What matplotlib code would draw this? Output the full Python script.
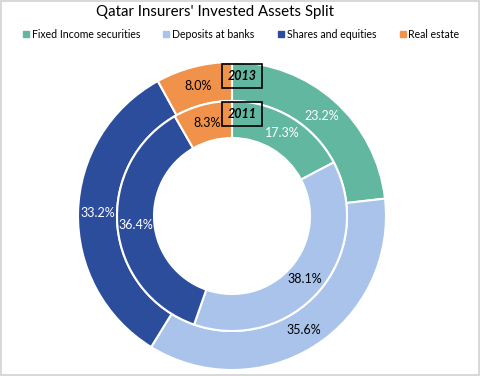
import matplotlib
matplotlib.use("Agg")
import matplotlib.pyplot as plt
from matplotlib.lines import Line2D
import numpy as np

plt.rcParams['font.family'] = ['Lato', 'DejaVu Sans']

# Data
categories = ["Fixed Income securities", "Deposits at banks", "Shares and equities", "Real estate"]
share_2013 = [23.2, 35.6, 33.2, 8.0]
share_2011 = [17.3, 38.1, 36.4, 8.3]
years = ["2013", "2011"]
colors = ["#62b7a0", "#a9c3ea", "#2b4d9c", "#f0924a"]
label_colors = ["white", "black", "white", "black"]

fig = plt.figure(figsize=(4.8, 3.76), dpi=100)
fig.patch.set_edgecolor("#d9d9d9")
fig.patch.set_linewidth(1.5)

# donut axes: center ~ (232, 216) px, outer radius ~154 px
R = 154
cx, cy = 232, 216
ax = fig.add_axes([(cx - R) / 480, (376 - cy - R) / 376, 2 * R / 480, 2 * R / 376])

r_out = 1.0
r_mid = 115 / R
r_in = 78 / R

outer_w, _ = ax.pie(share_2013, radius=r_out, colors=colors, startangle=90, counterclock=False,
                    wedgeprops=dict(width=r_out - r_mid, edgecolor="white", linewidth=1.5))
inner_w, _ = ax.pie(share_2011, radius=r_mid, colors=colors, startangle=90, counterclock=False,
                    wedgeprops=dict(width=r_mid - r_in, edgecolor="white", linewidth=1.5))
ax.set_xlim(-1, 1)
ax.set_ylim(-1, 1)
ax.axis("off")

ring_mids = [(r_out + r_mid) / 2, (r_mid + r_in) / 2]
for wedges, vals, rr in zip([outer_w, inner_w], [share_2013, share_2011], ring_mids):
    for w, v, c in zip(wedges, vals, label_colors):
        ang = np.deg2rad((w.theta1 + w.theta2) / 2)
        ax.text(rr * np.cos(ang), rr * np.sin(ang), f"{v:.1f}%", color=c,
                ha="center", va="center", fontsize=9)

# year boxes
for yr, rr in zip(years, ring_mids):
    ax.text(0.065, rr + 0.035, yr, ha="center", va="center", fontsize=9, fontweight="bold", style="italic",
            bbox=dict(boxstyle="square,pad=0.45", facecolor="none", edgecolor="black", linewidth=1.2))

fig.text(0.448, 0.968, "Qatar Insurers' Invested Assets Split", ha="center", va="center", fontsize=10.8)

handles = [Line2D([], [], marker="s", linestyle="none", color=c, markersize=4) for c in colors]
fig.legend(handles, categories, loc="center", bbox_to_anchor=(0.5, 0.908), ncol=4, frameon=False,
           fontsize=7.6, handletextpad=0.05, columnspacing=2.0, handlelength=1.0)

fig.savefig("out.png", dpi=100, edgecolor=fig.get_edgecolor())
